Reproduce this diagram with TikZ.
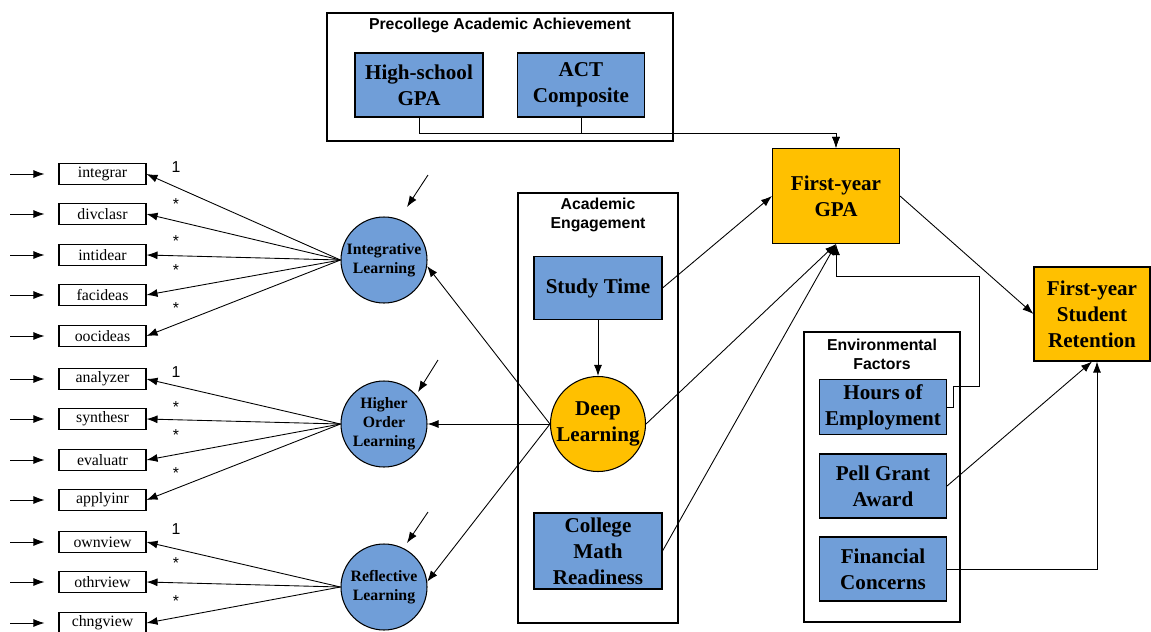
\documentclass[tikz,border=0pt]{standalone}
\usepackage{fontspec}
\setmainfont{Liberation Serif}
\setsansfont{Liberation Sans}
\usetikzlibrary{arrows.meta}
\definecolor{boxblue}{RGB}{112,158,216}
\definecolor{boxgold}{RGB}{255,192,0}
\tikzset{
  arr/.style={line width=0.5pt,-{Latex[length=2.2mm,width=1.6mm]}},
  ind/.style={draw,rectangle,minimum width=17.4mm,minimum height=4.2mm,inner sep=0pt,font=\fontsize{9}{10}\selectfont},
  obs/.style={draw,rectangle,fill=boxblue,inner sep=0pt,align=center,font=\bfseries\fontsize{12}{14.7}\selectfont},
  outc/.style={obs,fill=boxgold},
  latent/.style={draw,circle,fill=boxblue,minimum size=17.2mm,inner sep=0pt,align=center,font=\bfseries\fontsize{9}{10.8}\selectfont},
  grp/.style={draw,rectangle,inner sep=0pt},
  grptitle/.style={align=center,inner sep=0pt,font=\sffamily\bfseries\fontsize{9}{10.8}\selectfont},
  load/.style={inner sep=0pt,font=\sffamily\fontsize{9}{10}\selectfont}
}
\begin{document}
\begin{tikzpicture}[x=0.2mm,y=-0.2mm,line width=0.6pt]
  \useasboundingbox (0,0) rectangle (1151,631);
  % groups
  \node[grp,minimum width=69.2mm,minimum height=25.6mm] (pre)at(500,77) {};
  \node[grptitle] (pretitle)at(500,25) {Precollege Academic Achievement};
  \node[grp,minimum width=32mm,minimum height=86mm] (eng)at(598,408) {};
  \node[grptitle] (engtitle)at(598,215) {Academic\\Engagement};
  \node[grp,minimum width=31.2mm,minimum height=58mm] (env)at(882,477) {};
  \node[grptitle] (envtitle)at(882,354) {Environmental\\Factors};
  % observed variables
  \node[obs,minimum width=25.6mm,minimum height=12.8mm] (hsgpa)at(419,85) {High-school\\GPA};
  \node[obs,minimum width=25.4mm,minimum height=12.8mm] (act)at(581,85) {ACT\\Composite};
  \node[obs,minimum width=25.6mm,minimum height=12.6mm] (study)at(598,288) {Study Time};
  \node[obs,minimum width=25.6mm,minimum height=15.2mm] (math)at(598,551) {College\\Math\\Readiness};
  \node[obs,minimum width=25.4mm,minimum height=11mm] (hours)at(883,407) {Hours of\\Employment};
  \node[obs,minimum width=25.4mm,minimum height=12.8mm] (pell)at(883,486) {Pell Grant\\Award};
  \node[obs,minimum width=25.4mm,minimum height=12.8mm] (fin)at(883,569) {Financial\\Concerns};
  \node[outc,minimum width=25.4mm,minimum height=19mm] (fygpa)at(836,196) {First-year\\GPA};
  \node[outc,minimum width=23.2mm,minimum height=18.8mm] (ret)at(1092,314) {First-year\\Student\\Retention};
  \node[latent,fill=boxgold,minimum size=19mm,font=\bfseries\fontsize{12}{14.7}\selectfont] (deep)at(598,424) {Deep\\Learning};
  % latent factors
  \node[latent] (intl)at(384,260) {Integrative\\Learning};
  \node[latent] (hol)at(384,424) {Higher\\Order\\Learning};
  \node[latent] (refl)at(384,587) {Reflective\\Learning};
  % indicators
  \node[ind] (integrar)at(102.5,174) {integrar};
  \node[ind] (divclasr)at(102.5,214) {divclasr};
  \node[ind] (intidear)at(102.5,255) {intidear};
  \node[ind] (facideas)at(102.5,295) {facideas};
  \node[ind] (oocideas)at(102.5,336) {oocideas};
  \node[ind] (analyzer)at(102.5,379) {analyzer};
  \node[ind] (synthesr)at(102.5,419) {synthesr};
  \node[ind] (evaluatr)at(102.5,460) {evaluatr};
  \node[ind] (applyinr)at(102.5,500) {applyinr};
  \node[ind] (ownview)at(102.5,542) {ownview};
  \node[ind] (othrview)at(102.5,582) {othrview};
  \node[ind] (chngview)at(102.5,623) {chngview};
  % error terms
  \coordinate (e1)at(10,174);
  \coordinate (e2)at(10,214);
  \coordinate (e3)at(10,255);
  \coordinate (e4)at(10,295);
  \coordinate (e5)at(10,336);
  \coordinate (e6)at(10,379);
  \coordinate (e7)at(10,419);
  \coordinate (e8)at(10,460);
  \coordinate (e9)at(10,500);
  \coordinate (e10)at(10,542);
  \coordinate (e11)at(10,582);
  \coordinate (e12)at(10,623);
  \draw[arr,shorten >=2.8mm] (e1) -- (integrar.west);
  \draw[arr,shorten >=2.8mm] (e2) -- (divclasr.west);
  \draw[arr,shorten >=2.8mm] (e3) -- (intidear.west);
  \draw[arr,shorten >=2.8mm] (e4) -- (facideas.west);
  \draw[arr,shorten >=2.8mm] (e5) -- (oocideas.west);
  \draw[arr,shorten >=2.8mm] (e6) -- (analyzer.west);
  \draw[arr,shorten >=2.8mm] (e7) -- (synthesr.west);
  \draw[arr,shorten >=2.8mm] (e8) -- (evaluatr.west);
  \draw[arr,shorten >=2.8mm] (e9) -- (applyinr.west);
  \draw[arr,shorten >=2.8mm] (e10) -- (ownview.west);
  \draw[arr,shorten >=2.8mm] (e11) -- (othrview.west);
  \draw[arr,shorten >=2.8mm] (e12) -- (chngview.west);
  % loadings
  \draw[arr] (intl.west) -- (integrar.east);
  \draw[arr] (intl.west) -- (divclasr.east);
  \draw[arr] (intl.west) -- (intidear.east);
  \draw[arr] (intl.west) -- (facideas.east);
  \draw[arr] (intl.west) -- (oocideas.east);
  \draw[arr] (hol.west) -- (analyzer.east);
  \draw[arr] (hol.west) -- (synthesr.east);
  \draw[arr] (hol.west) -- (evaluatr.east);
  \draw[arr] (hol.west) -- (applyinr.east);
  \draw[arr] (refl.west) -- (ownview.east);
  \draw[arr] (refl.west) -- (othrview.east);
  \draw[arr] (refl.west) -- (chngview.east);
  \node[load] (l1)at(176,167) {1};
  \node[load] (l2)at(176,204) {*};
  \node[load] (l3)at(176,241) {*};
  \node[load] (l4)at(176,270) {*};
  \node[load] (l5)at(176,308) {*};
  \node[load] (l6)at(176,372) {1};
  \node[load] (l7)at(176,407) {*};
  \node[load] (l8)at(176,435) {*};
  \node[load] (l9)at(176,473) {*};
  \node[load] (l10)at(176,529) {1};
  \node[load] (l11)at(176,563) {*};
  \node[load] (l12)at(176,601) {*};
  % disturbances
  \coordinate (d1)at(428,175);
  \coordinate (d1e)at(407,207);
  \coordinate (d2)at(438,360);
  \coordinate (d2e)at(418,392);
  \coordinate (d3)at(428,512);
  \coordinate (d3e)at(407,543);
  \draw[arr] (d1) -- (d1e);
  \draw[arr] (d2) -- (d2e);
  \draw[arr] (d3) -- (d3e);
  % structural paths
  \draw[arr] (deep.west) -- (intl.-8);
  \draw[arr] (deep.west) -- (hol.east);
  \draw[arr] (deep.west) -- (refl.7);
  \draw[arr] (study.south) -- (deep.north);
  \draw[arr] (study.east) -- (fygpa.west);
  \draw[arr] (deep.east) -- (fygpa.south);
  \draw[arr] (math.east) -- (fygpa.south);
  \draw[arr] (hsgpa.south) -- ++(0,16) -| (fygpa.north);
  \draw[arr] (act.south) -- ++(0,16) -| (fygpa.north);
  \draw[arr] (hours.east) -- ++(6,0) -- ++(0,-21) -| ++(26,-110) -| (fygpa.south);
  \draw[arr] (fygpa.east) -- (ret.west);
  \draw[arr] (pell.east) -- (ret.south);
  \draw[arr] (fin.east) -| ([xshift=1mm]ret.south);
\end{tikzpicture}
\end{document}
